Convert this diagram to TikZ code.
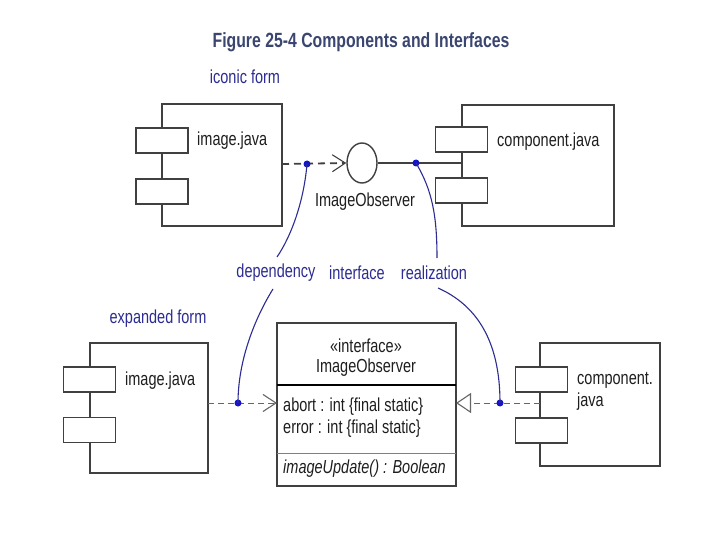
\documentclass[tikz,border=0pt]{standalone}
\usepackage{graphicx}
\usepackage{fontspec}
\setmainfont{Liberation Sans}
\usetikzlibrary{arrows.meta,shapes.geometric}
\definecolor{titleblue}{HTML}{3A4670}
\definecolor{labblue}{HTML}{2C2C92}
\definecolor{dotblue}{HTML}{1414C8}
\definecolor{edge}{HTML}{404040}
\definecolor{txt}{HTML}{1E1E1E}
\newcommand{\vs}[1]{\scalebox{1}[1.3]{#1}}
\tikzset{
  x=1pt, y=-1pt,
  comp/.style={draw=edge, line width=1.5pt, fill=white, inner sep=0pt},
  port/.style={draw=edge, line width=1.3pt, fill=white, minimum width=52pt, minimum height=25pt, inner sep=0pt},
  lab/.style={text=txt, font=\fontsize{14.5}{16}\selectfont, inner sep=0pt},
  llab/.style={lab, anchor=west},
  blab/.style={text=labblue, font=\fontsize{14.5}{16}\selectfont, inner sep=0pt},
  dot/.style={circle, fill=dotblue, minimum size=7pt, inner sep=0pt},
  note/.style={draw=labblue, line width=1.1pt},
  depdash/.style={draw=edge, line width=1.8pt, dash pattern=on 7pt off 5pt},
  thindash/.style={draw=gray!80!black, line width=1pt, dash pattern=on 6pt off 4pt},
  barb/.style={-{Straight Barb[length=13pt,width=17pt,line width=1.1pt]}},
  realtip/.style={-{Triangle[open,length=15pt,width=20pt,line width=1.1pt]}}
}
\begin{document}
\begin{tikzpicture}
\useasboundingbox[fill=white] (0,0) rectangle (720,540);

% title
\node[text=titleblue, font=\bfseries\fontsize{15.8}{18}\selectfont, inner sep=0pt] (title) at (361,42) {\vs{Figure 25-4 Components and Interfaces}};

% ---------- iconic form ----------
\node[blab] (iconic) at (245,77) {\vs{iconic form}};

\node[comp, minimum width=120pt, minimum height=122pt] (c1) at (222,165) {};
\node[port] (p1a) at (162,140.5) {};
\node[port] (p1b) at (162,191.5) {};
\node[llab] (l1) at (197,141) {\vs{image.java}};

\node[comp, minimum width=152pt, minimum height=121pt] (c2) at (538,165.5) {};
\node[port] (p2a) at (461.5,139.5) {};
\node[port] (p2b) at (461.5,190.5) {};
\node[llab] (l2) at (497,142) {\vs{component.java}};

\node[ellipse, draw=edge, line width=1.4pt, minimum width=30pt, minimum height=40pt, inner sep=0pt] (i1) at (362,163) {};
\node[lab] (iname) at (365,202) {\vs{ImageObserver}};

\coordinate (c1e) at (282,164);
\coordinate (c2w) at (462,163);
\draw[depdash, barb] (c1e) -- (i1.west);
\draw[draw=edge, line width=1.8pt] (i1.east) -- (c2w);

\node[dot] (d1) at (307,164) {};
\node[dot] (d2) at (416,163) {};

% ---------- labels ----------
\node[blab] (dep) at (276,273) {\vs{dependency}};
\node[blab] (intf) at (357,273) {\vs{interface}};
\node[blab] (real) at (434,273) {\vs{realization}};
\coordinate (depT) at (277,257);
\coordinate (depB) at (273,289);
\coordinate (realT) at (437,258);
\coordinate (realB) at (438,288);

% ---------- expanded form ----------
\node[blab] (expanded) at (158,319) {\vs{expanded form}};

\node[comp, minimum width=118pt, minimum height=130pt] (c3) at (149,408) {};
\node[port] (p3a) at (89.5,379.5) {};
\node[port] (p3b) at (89.5,430) {};
\node[llab] (l3) at (125,381) {\vs{image.java}};

\node[comp, minimum width=120pt, minimum height=123pt] (c4) at (600,404.5) {};
\node[port] (p4a) at (541.5,379.5) {};
\node[port] (p4b) at (541.5,430.5) {};
\node[llab] (l4a) at (577,380) {\vs{component.}};
\node[llab] (l4b) at (577,402) {\vs{java}};

% interface class box
\node[draw=edge, line width=1.3pt, fill=white, minimum width=179pt, minimum height=163pt, inner sep=0pt] (ib) at (366.5,404.5) {};
\coordinate (s1l) at (277,385); \coordinate (s1r) at (456,385);
\coordinate (s2l) at (277,453); \coordinate (s2r) at (456,453);
\draw[draw=black, line width=1.8pt] (s1l) -- (s1r);
\draw[draw=gray, line width=1pt] (s2l) -- (s2r);
\node[lab] (ster) at (366,346) {\vs{«interface»}};
\node[lab] (iname2) at (366,368) {\vs{ImageObserver}};
\node[llab] (att1) at (283,407) {\vs{abort : int \{final static\}}};
\node[llab] (att2) at (283,429) {\vs{error : int \{final static\}}};
\node[llab] (op1) at (283,469) {\vs{\itshape imageUpdate() : Boolean}};

\coordinate (c3e) at (208,403);
\coordinate (ibw) at (277,403);
\coordinate (ibe) at (456,403);
\coordinate (c4w) at (540,403);
\draw[thindash, barb] (c3e) -- (ibw);
\draw[thindash, realtip] (c4w) -- (ibe);

\node[dot] (d3) at (238,403) {};
\node[dot] (d4) at (500,403) {};

% ---------- callout curves ----------
\draw[note] (d1.center) .. controls (304,200) and (292,235) .. (depT);
\draw[note] (depB) .. controls (255,318) and (238,360) .. (d3.center);
\draw[note] (d2.center) .. controls (432,190) and (437,215) .. (realT);
\draw[note] (realB) .. controls (476,305) and (500,340) .. (d4.center);
\end{tikzpicture}
\end{document}
